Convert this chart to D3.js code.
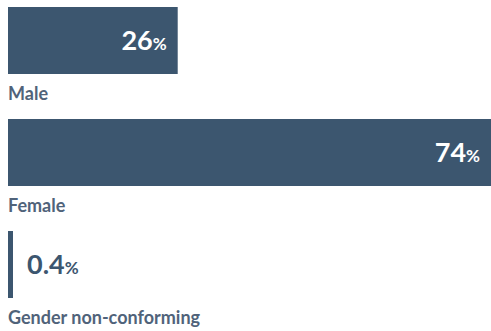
<!DOCTYPE html>
<html>
<head>
<meta charset="utf-8">
<script src="https://cdn.jsdelivr.net/npm/d3@7"></script>
<style>
    body { margin: 0; background: #fff; }
    svg { display: block; font-family: Lato, sans-serif; }
</style>
</head>
<body>
<div class="main"></div>
<script>
const categories = ["Male", "Female", "Gender non-conforming"];
const shares = [26, 74, 0.4];
const valueLabels = ["26", "74", "0.4"];

const w = 491;
const h = 331;
const left = 8;
const barColor = "#3c566f";
const labelColor = "#50637a";

const svg = d3.select(".main").append("svg").attr("width", w).attr("height", h);

// one band per category, bar sits at the top of each step
const yScale = d3.scaleBand()
    .domain(categories)
    .range([7, 298])
    .paddingInner(45 / 112)
    .paddingOuter(0);

const xScale = d3.scaleLinear()
    .domain([0, d3.max(shares)])
    .range([0, w - left]);

const data = categories.map((c, i) => ({ cat: c, value: shares[i], label: valueLabels[i] }));

const rows = svg.selectAll("g.row")
    .data(data)
    .enter()
    .append("g")
    .attr("class", "row")
    .attr("transform", (d) => `translate(${left},${yScale(d.cat)})`);

rows.append("rect")
    .attr("width", (d) => Math.max(5, xScale(d.value)))
    .attr("height", yScale.bandwidth())
    .attr("fill", barColor);

// value label: inside the bar when it fits, otherwise just right of it
const valueText = rows.append("text")
    .attr("y", yScale.bandwidth() / 2)
    .attr("dy", "0.36em")
    .attr("font-weight", 700)
    .attr("font-size", 27)
    .each(function (d) {
        const inside = xScale(d.value) > 60;
        d3.select(this)
            .attr("x", inside ? xScale(d.value) - 11 : 19)
            .attr("text-anchor", inside ? "end" : "start")
            .attr("fill", inside ? "#fff" : barColor);
    });

valueText.append("tspan").text((d) => d.label);
valueText.append("tspan").attr("font-size", 17).text("%");

rows.append("text")
    .attr("x", 0)
    .attr("y", yScale.bandwidth() + 26)
    .attr("font-weight", 700)
    .attr("font-size", 18)
    .attr("fill", labelColor)
    .text((d) => d.cat);
</script>
</body>
</html>
